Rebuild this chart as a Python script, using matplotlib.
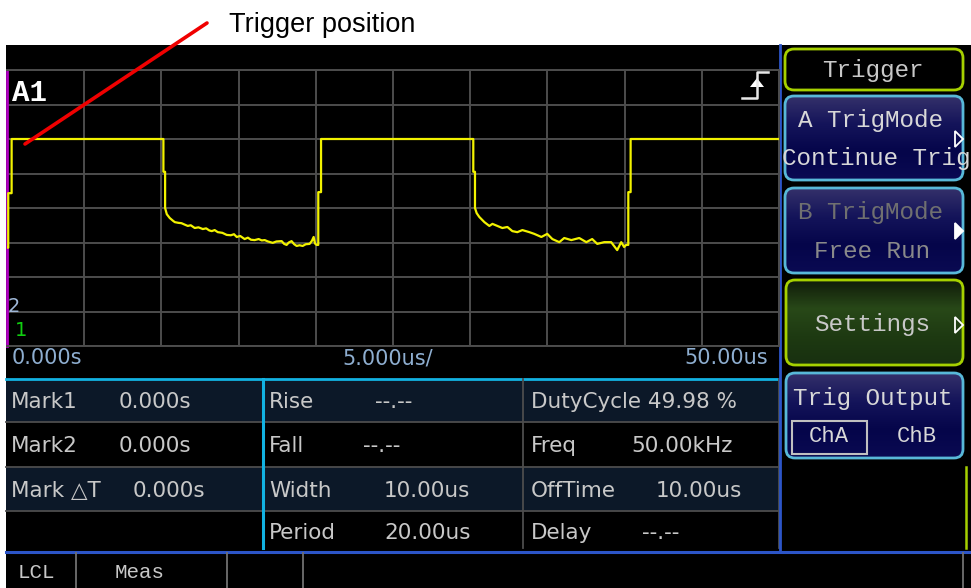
import numpy as np
import matplotlib
matplotlib.use("Agg")
import matplotlib.pyplot as plt
from matplotlib.patches import FancyBboxPatch, Rectangle, Polygon
from matplotlib.colors import LinearSegmentedColormap

# trace: time in us, level in divisions (0 = bottom line)
t_us = [0.0, 0.08, 0.08, 0.30, 0.30, 10.13, 10.13, 10.24, 10.24,
        10.35, 10.54, 10.75, 10.87, 11.10, 11.30, 11.50, 11.71, 11.90, 12.16,
        12.40, 12.68, 12.90, 13.10, 13.26, 13.45, 13.65, 13.95, 14.23, 14.50,
        14.70, 14.88, 15.10, 15.39, 15.60, 15.80, 16.04, 16.30, 16.50, 16.69,
        16.90, 17.21, 17.45, 17.79, 17.95, 18.11, 18.25, 18.43, 18.60, 18.76,
        18.95, 19.15, 19.35, 19.60, 19.75, 19.86, 19.95, 20.05, 20.16,
        20.16, 20.34, 20.34, 30.20, 30.20, 30.31, 30.31,
        30.42, 30.59, 30.92, 31.24, 31.44, 31.76, 32.08, 32.41, 32.73, 33.05,
        33.38, 33.83, 34.15, 34.61, 34.99, 35.32, 35.77, 36.09, 36.55, 37.06,
        37.52, 37.90, 38.23, 38.68, 39.13, 39.52, 39.78, 39.97, 40.10, 40.24,
        40.24, 40.39, 40.39, 50.0]
v_div = [2.85, 2.85, 4.43, 4.43, 6.0, 6.0, 5.05, 5.05, 4.0,
         3.82, 3.71, 3.63, 3.59, 3.57, 3.56, 3.52, 3.48, 3.50, 3.42,
         3.44, 3.39, 3.41, 3.35, 3.33, 3.36, 3.30, 3.28, 3.22, 3.21,
         3.24, 3.16, 3.19, 3.10, 3.14, 3.08, 3.07, 3.10, 3.06, 3.07,
         3.03, 2.99, 3.03, 3.04, 2.96, 2.93, 3.00, 3.04, 2.95, 2.90,
         2.92, 2.90, 2.95, 2.96, 3.05, 3.16, 2.97, 2.93, 2.93,
         4.46, 4.46, 6.0, 6.0, 5.05, 5.05, 4.0,
         3.85, 3.74, 3.59, 3.48, 3.54, 3.48, 3.42, 3.45, 3.33, 3.30,
         3.36, 3.30, 3.25, 3.16, 3.25, 3.10, 3.01, 3.13, 3.07, 3.13,
         3.01, 3.10, 2.96, 3.01, 3.01, 2.78, 3.01, 2.87, 2.93, 2.93,
         4.46, 4.46, 6.0, 6.0]

x_div = list(range(0, 51, 5))
y_div = list(range(0, 9))
time_labels = ["0.000s", "5.000us/", "50.00us"]

left_names = ["Mark1", "Mark2", "Mark \u25b3T", ""]
left_vals = ["0.000s", "0.000s", "0.000s", ""]
mid_names = ["Rise", "Fall", "Width", "Period"]
mid_vals = ["--.--", "--.--", "10.00us", "20.00us"]
right_names = ["DutyCycle 49.98 %", "Freq", "OffTime", "Delay"]
right_vals = ["", "50.00kHz", "10.00us", "--.--"]

menu_top = ["A TrigMode", "B TrigMode", "Settings", "Trig Output"]
menu_bottom = ["Continue Trig", "Free Run", "", ""]
soft_keys = ["LCL", "Meas"]

W, H = 971, 588
fig = plt.figure(figsize=(W / 100, H / 100), dpi=100)
fig.patch.set_facecolor("white")

ui = fig.add_axes([0, 0, 1, 1])
ui.set_xlim(0, W)
ui.set_ylim(H, 0)
ui.axis("off")

mono = ["Liberation Mono", "DejaVu Sans Mono"]
lcd = ["DejaVu Sans"]
txt = "#c8c8c8"
cyan = "#12b2e2"
blue = "#2c55c8"
lime = "#a6d000"
grid_c = "#4d4d4d"

# black screen
ui.add_patch(Rectangle((6, 45), W - 6, H - 45, fc="black", ec="none", zorder=0))

# table rows
row_y = [379, 422, 467, 511, 551]
for i in range(4):
    fc = "#0c1828" if i % 2 == 0 else "black"
    ui.add_patch(Rectangle((6, row_y[i]), 774, row_y[i + 1] - row_y[i], fc=fc, ec="none", zorder=1))
    if i > 0:
        ui.plot([6, 779], [row_y[i], row_y[i]], color=grid_c, lw=1.3, zorder=2)
ui.plot([6, 779], [379, 379], color=cyan, lw=2, zorder=3)
ui.plot([263, 263], [379, 548], color=cyan, lw=2.2, zorder=3)
ui.plot([523, 523], [379, 548], color=grid_c, lw=1.3, zorder=3)
ui.plot([779, 779], [379, 548], color=grid_c, lw=1.3, zorder=3)

mid_val_x = [375, 363, 384, 384]
right_val_x = [0, 631, 656, 642]
for i in range(4):
    yc = (row_y[i] + row_y[i + 1]) / 2 + 2
    ui.text(11, yc, left_names[i], color=txt, fontsize=15.5, family=lcd, va="center", zorder=4)
    ui.text(133 if i == 2 else 119, yc, left_vals[i], color=txt, fontsize=15.5, family=lcd, va="center", zorder=4)
    ui.text(269, yc, mid_names[i], color=txt, fontsize=15.5, family=lcd, va="center", zorder=4)
    ui.text(mid_val_x[i], yc, mid_vals[i], color=txt, fontsize=15.5, family=lcd, va="center", zorder=4)
    ui.text(531, yc, right_names[i], color=txt, fontsize=15.5, family=lcd, va="center", zorder=4)
    ui.text(right_val_x[i], yc, right_vals[i], color=txt, fontsize=15.5, family=lcd, va="center", zorder=4)

# time labels under grid
lab_c = "#8eaed0"
ui.text(12, 358, time_labels[0], color=lab_c, fontsize=15, family=lcd, va="center", ha="left")
ui.text(388, 358, time_labels[1], color=lab_c, fontsize=15, family=lcd, va="center", ha="center")
ui.text(768, 358, time_labels[2], color=lab_c, fontsize=15, family=lcd, va="center", ha="right")

# separators and bottom bar
ui.plot([780, 780], [45, 551], color=blue, lw=2, zorder=3)
ui.plot([6, W], [552, 552], color=blue, lw=2.2, zorder=3)
for xs in [76, 227, 303, 963]:
    ui.plot([xs, xs], [553, H], color="#707070", lw=1.3, zorder=3)
ui.plot([966, 966], [467, 548], color=lime, lw=1.8, zorder=3)
ui.text(36, 572, soft_keys[0], color=txt, fontsize=15, family=mono, va="center", ha="center")
ui.text(140, 572, soft_keys[1], color=txt, fontsize=15, family=mono, va="center", ha="center")


def button(x0, y0, x1, y1, edge, colors):
    box = FancyBboxPatch((x0, y0), x1 - x0, y1 - y0, boxstyle="round,pad=0,rounding_size=9",
                         fc="none", ec=edge, lw=2, zorder=4)
    ui.add_patch(box)
    cmap = LinearSegmentedColormap.from_list("btn", colors)
    im = ui.imshow(np.linspace(0, 1, 64)[:, None], cmap=cmap, extent=(x0, x1, y1, y0),
                   aspect="auto", zorder=3)
    im.set_clip_path(box)


def arrow(y, filled):
    ui.add_patch(Polygon([[955, y - 8], [963, y], [955, y + 8]], closed=True,
                         fc="white" if filled else "none", ec="white", lw=1.3, zorder=6))


navy = ["#34306a", "#14145a", "#05054a", "#0a0a52"]
button(785, 49, 963, 90, lime, ["black", "black"])
ui.text(873, 71, "Trigger", color=txt, fontsize=17.5, family=mono, ha="center", va="center", zorder=6)

button(785, 96, 963, 180, "#58b8d8", navy)
ui.text(870, 121, menu_top[0], color="#d8d8d8", fontsize=17.5, family=mono, ha="center", va="center", zorder=6)
ui.text(876, 159, menu_bottom[0], color="#d8d8d8", fontsize=17.5, family=mono, ha="center", va="center", zorder=6)
arrow(139, False)

button(785, 188, 963, 273, "#58b8d8", navy)
ui.text(870, 213, menu_top[1], color="#707070", fontsize=17.5, family=mono, ha="center", va="center", zorder=6)
ui.text(872, 252, menu_bottom[1], color="#8a8a8a", fontsize=17.5, family=mono, ha="center", va="center", zorder=6)
arrow(231, True)

button(786, 280, 963, 365, lime, ["#101c0a", "#284818", "#1e3a12", "#183010"])
ui.text(872, 325, menu_top[2], color=txt, fontsize=17.5, family=mono, ha="center", va="center", zorder=6)
arrow(325, False)

button(786, 373, 963, 458, "#58b8d8", navy)
ui.text(873, 398, menu_top[3], color="#d8d8d8", fontsize=17.5, family=mono, ha="center", va="center", zorder=6)
ui.add_patch(Rectangle((792, 421), 75, 33, fc="none", ec="#c0c0c0", lw=1.5, zorder=6))
ui.text(829, 437, "ChA", color="#d8d8d8", fontsize=16, family=mono, ha="center", va="center", zorder=6)
ui.text(917, 437, "ChB", color="#d8d8d8", fontsize=16, family=mono, ha="center", va="center", zorder=6)

ui.set_xlim(0, W)
ui.set_ylim(H, 0)

# scope grid and trace
scope = fig.add_axes([7 / W, 1 - 346 / H, 772 / W, 276 / H])
scope.set_facecolor("black")
scope.set_xlim(0, 50)
scope.set_ylim(0, 8)
scope.set_xticks(x_div)
scope.set_yticks(y_div)
scope.tick_params(length=0, labelbottom=False, labelleft=False)
scope.grid(True, color=grid_c, lw=1.4)
for side in ["top", "right", "bottom"]:
    scope.spines[side].set_color(grid_c)
    scope.spines[side].set_linewidth(1.4)
scope.spines["left"].set_color("#b000c0")
scope.spines["left"].set_linewidth(2)
scope.plot(t_us, v_div, color="#f2f200", lw=1.6, zorder=3)

# overlay: on-screen markers and the annotation
over = fig.add_axes([0, 0, 1, 1])
over.set_xlim(0, W)
over.set_ylim(H, 0)
over.axis("off")
over.patch.set_alpha(0)

over.text(12, 93, "A1", color="white", fontsize=21, family=mono, fontweight="bold", va="center")
over.text(8, 307, "2", color="#9fb8d8", fontsize=14, family=lcd, va="center")
over.text(15, 330, "1", color="#10d010", fontsize=14, family=lcd, va="center")
over.plot([742, 757, 757, 768], [98, 98, 72, 72], color="#e8e8e8", lw=1.8)
over.add_patch(Polygon([[750, 87], [764, 87], [757, 78]], closed=True, fc="white", ec="none"))

over.plot([207, 25], [23, 144], color="#f00000", lw=2.6, solid_capstyle="round")
over.text(229, 32, "Trigger position", color="black", fontsize=19.5,
          family=["Liberation Sans", "DejaVu Sans"], va="baseline")

fig.savefig("out.png", dpi=100, facecolor=fig.get_facecolor())
